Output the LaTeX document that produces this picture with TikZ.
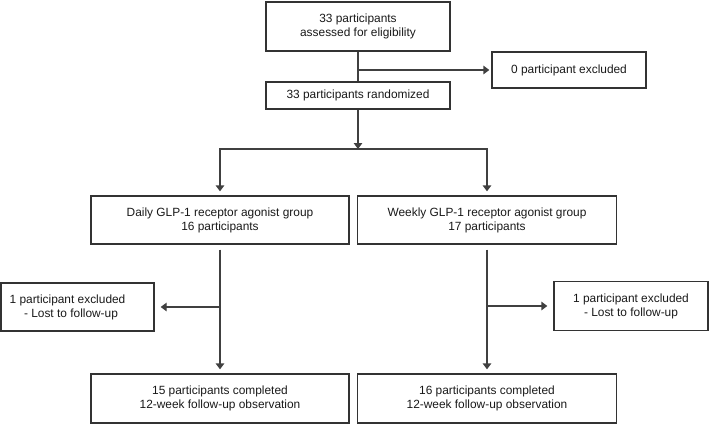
\documentclass[tikz,border=0pt]{standalone}
\usepackage{fontspec}
\setmainfont{Liberation Sans}
\usetikzlibrary{arrows.meta}
\begin{document}
\begin{tikzpicture}[x=1pt,y=-1pt,
  box/.style={draw=black!80, line width=1.3pt, rectangle, inner sep=0pt, align=center,
    font=\fontsize{11.9}{14}\selectfont, text=black!90},
  conn/.style={draw=black!75, line width=1.3pt},
  arr/.style={conn, -{Triangle[width=8.5pt,length=6pt]}}]
\useasboundingbox (0,0) rectangle (709,424);
\node[box, minimum width=184pt, minimum height=49pt] (assess) at (358,26.5) {33 participants\\assessed for eligibility};
\node[box, minimum width=154pt, minimum height=36pt] (ex0) at (569,70) {0 participant excluded};
\node[box, minimum width=184pt, minimum height=27pt] (rand) at (358,95.5) {33 participants randomized};
\node[box, minimum width=258pt, minimum height=48pt] (daily) at (220,220) {Daily GLP-1 receptor agonist group\\16 participants};
\node[box, minimum width=259pt, minimum height=48pt] (weekly) at (487,220) {Weekly GLP-1 receptor agonist group\\17 participants};
\node[box, minimum width=153pt, minimum height=48pt] (exL) at (77.5,307) {1 participant excluded\hspace*{20pt}\\- Lost to follow-up\hspace*{13pt}};
\node[box, minimum width=154pt, minimum height=49pt] (exR) at (631,306) {1 participant excluded\\- Lost to follow-up};
\node[box, minimum width=258pt, minimum height=49pt] (compL) at (220,398.5) {15 participants completed\\12-week follow-up observation};
\node[box, minimum width=259pt, minimum height=49pt] (compR) at (487,398.5) {16 participants completed\\12-week follow-up observation};
\coordinate (split) at (358,149);
\coordinate (b1) at (assess.south |- ex0.west);
\coordinate (bL) at (daily.south |- exL.east);
\coordinate (bR) at (weekly.south |- exR.west);
\draw[conn] (assess.south) -- (rand.north);
\draw[arr, shorten >=2pt] (b1) -- (ex0.west);
\draw[arr] (rand.south) -- (split);
\draw[arr, shorten >=4pt] (split) -| (daily.north);
\draw[arr, shorten >=4pt] (split) -| (weekly.north);
\draw[arr, shorten <=5pt, shorten >=4pt] (daily.south) -- (compL.north);
\draw[arr, shorten <=5pt, shorten >=4pt] (weekly.south) -- (compR.north);
\draw[arr, shorten >=6pt] (bL) -- (exL.east);
\draw[arr, shorten >=6pt] (bR) -- (exR.west);
\end{tikzpicture}
\end{document}
